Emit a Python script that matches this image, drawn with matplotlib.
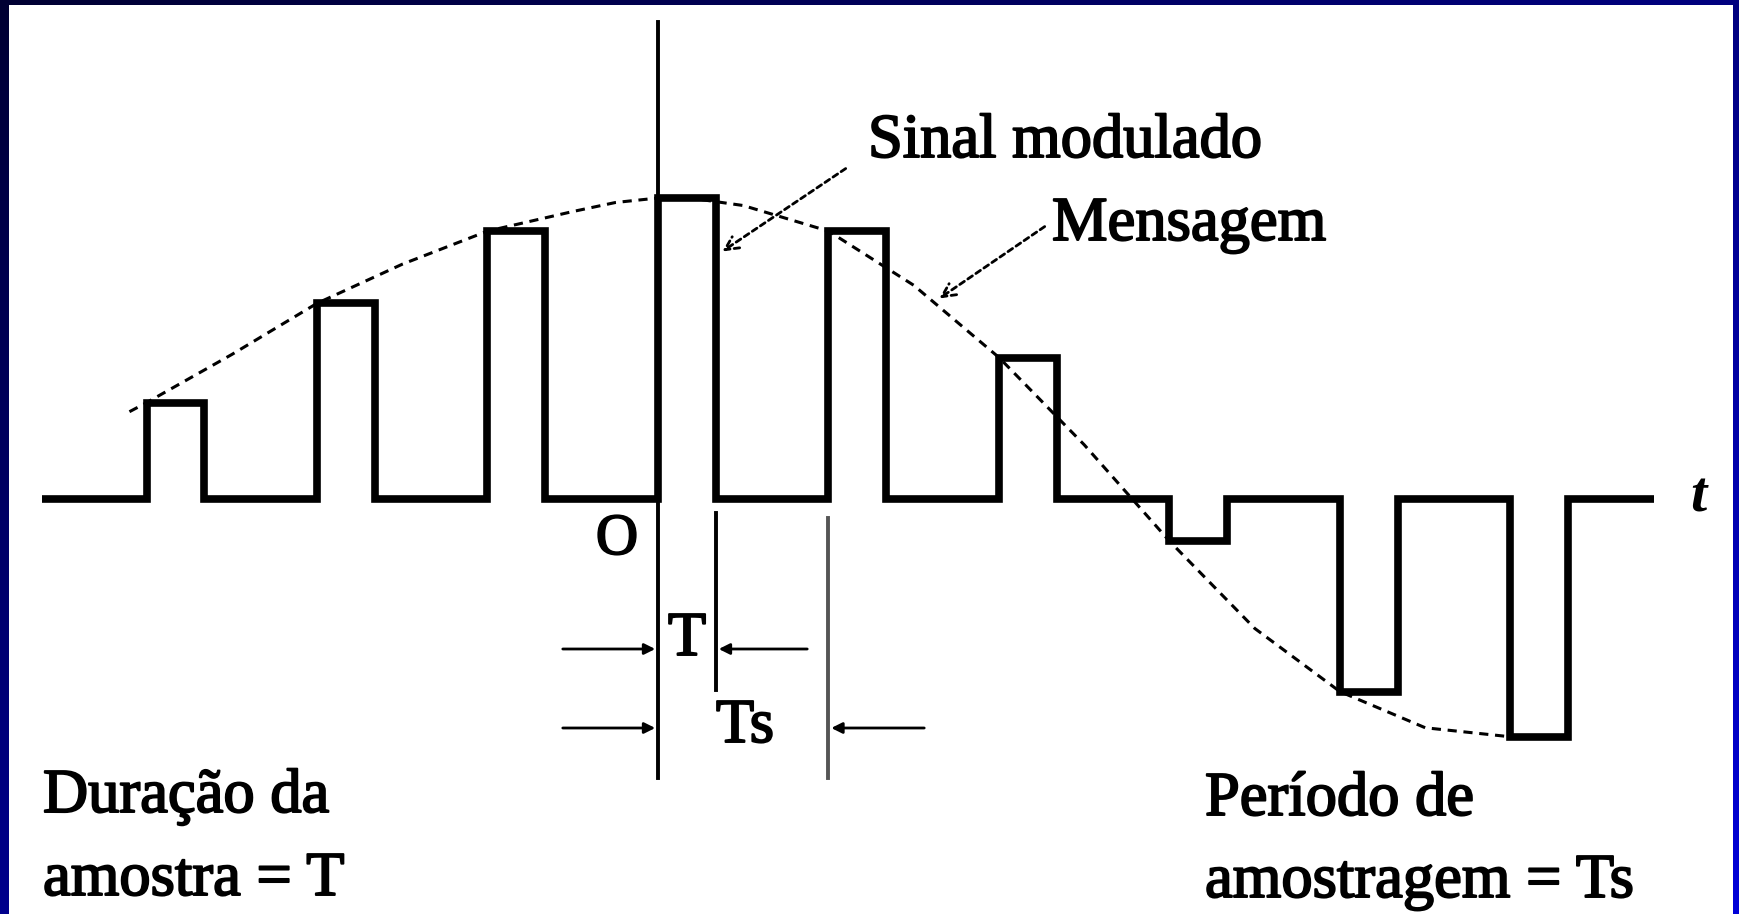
import numpy as np
import matplotlib
matplotlib.use("Agg")
import matplotlib.pyplot as plt
from matplotlib import patheffects

plt.rcParams['font.family'] = ['Liberation Serif', 'DejaVu Serif']

# amostras (tempo em unidades de Ts, amplitude normalizada)
sample_n = [-3, -2, -1, 0, 1, 2, 3, 4, 5]
sample_amp = [0.32, 0.65, 0.89, 1.0, 0.89, 0.47, -0.14, -0.64, -0.79]

# mensagem (curva tracejada)
msg_t = [-3.1, -3.0, -2.5, -2.0, -1.5, -1.0, -0.5, -0.25, 0.0, 0.25, 0.5,
         1.0, 1.5, 2.0, 2.5, 3.0, 3.5, 4.0, 4.5, 5.0]
msg_amp = [0.29, 0.32, 0.48, 0.65, 0.78, 0.89, 0.955, 0.985, 1.0, 0.995, 0.975,
           0.89, 0.71, 0.47, 0.18, -0.14, -0.43, -0.64, -0.76, -0.79]

Ts = 1.0
T = 0.34
t_start, t_end = -3.61, 5.84

# pixel -> dados (so para posicionar)
X0, SX, Y0, SY = 658, 170.5, 499, 301
def dx(p): return (p - X0) / SX
def dy(p): return (Y0 - p) / SY

fig = plt.figure(figsize=(17.4, 9.14), dpi=100)

# fundo azul do slide
bg = fig.add_axes([0, 0, 1, 1])
yy, xx = np.mgrid[0:1:100j, 0:1:200j]
blue = 0.2 + 0.35 * yy + 0.3 * xx
img = np.dstack([np.zeros_like(blue), np.zeros_like(blue), blue])
bg.imshow(img, aspect='auto', extent=[0, 1, 0, 1], origin='upper')
bg.axis('off')

panel = fig.add_axes([9 / 1740, 0, 1724 / 1740, 909 / 914])
panel.set_facecolor('white')
panel.set_xticks([]); panel.set_yticks([])
for s in panel.spines.values():
    s.set_visible(False)

ax = fig.add_axes([0, 0, 1, 1])
ax.set_facecolor('none')
ax.set_xlim(dx(0), dx(1740))
ax.set_ylim(dy(914), dy(0))
ax.axis('off')

# sinal PAM
xs, ys = [t_start], [0]
for n, a in zip(sample_n, sample_amp):
    t0 = n * Ts
    xs += [t0, t0, t0 + T, t0 + T]
    ys += [0, a, a, 0]
xs.append(t_end); ys.append(0)
ax.plot(xs, ys, color='black', lw=5.5, solid_joinstyle='miter',
        solid_capstyle='butt', zorder=3)

# mensagem
ax.plot(msg_t, msg_amp, color='black', lw=2.2, ls=(0, (3, 2.2)), zorder=2)

# eixo vertical e marcas de T e Ts
ax.plot([0, 0], [dy(22), dy(778)], color='black', lw=2.8, zorder=4)
ax.plot([T, T], [dy(513), dy(690)], color='black', lw=2.8, zorder=4)
ax.plot([Ts, Ts], [dy(518), dy(778)], color='#555555', lw=2.8, zorder=4)

arr = dict(arrowstyle='-|>', color='black', lw=2.0, mutation_scale=16)
yT, yTs = dy(649), dy(728)
ax.annotate('', xy=(0, yT), xytext=(dx(560), yT), arrowprops=arr)
ax.annotate('', xy=(T, yT), xytext=(dx(810), yT), arrowprops=arr)
ax.annotate('', xy=(0, yTs), xytext=(dx(560), yTs), arrowprops=arr)
ax.annotate('', xy=(Ts, yTs), xytext=(dx(927), yTs), arrowprops=arr)

fs = 45
pe = [patheffects.withStroke(linewidth=1.4, foreground='black')]
ax.text(dx(617), dy(540), 'O', fontsize=42, ha='center', va='center', path_effects=pe)
ax.text(dx(687), dy(640), 'T', fontsize=fs, ha='center', va='center', path_effects=pe)
ax.text(dx(745), dy(727), 'Ts', fontsize=fs, ha='center', va='center', path_effects=pe)
ax.text(dx(1698), dy(497), 't', fontsize=42, ha='center', va='center',
        style='italic', weight='bold')

ax.text(dx(868), dy(157), 'Sinal modulado', fontsize=fs, ha='left', va='baseline', path_effects=pe)
ax.text(dx(1052), dy(240), 'Mensagem', fontsize=fs, ha='left', va='baseline', path_effects=pe)
ax.text(dx(43), dy(812), 'Duração da', fontsize=fs, ha='left', va='baseline', path_effects=pe)
ax.text(dx(43), dy(895), 'amostra = T', fontsize=fs, ha='left', va='baseline', path_effects=pe)
ax.text(dx(1205), dy(815), 'Período de', fontsize=fs, ha='left', va='baseline', path_effects=pe)
ax.text(dx(1205), dy(897), 'amostragem = Ts', fontsize=fs, ha='left', va='baseline', path_effects=pe)

lab = dict(arrowstyle='->', color='black', lw=2.0, ls=(0, (2, 1.5)), mutation_scale=24)
ax.annotate('', xy=(dx(720), dy(253)), xytext=(dx(848), dy(167)), arrowprops=lab)
ax.annotate('', xy=(dx(937), dy(300)), xytext=(dx(1047), dy(225)), arrowprops=lab)

fig.savefig('out.png', dpi=100)
